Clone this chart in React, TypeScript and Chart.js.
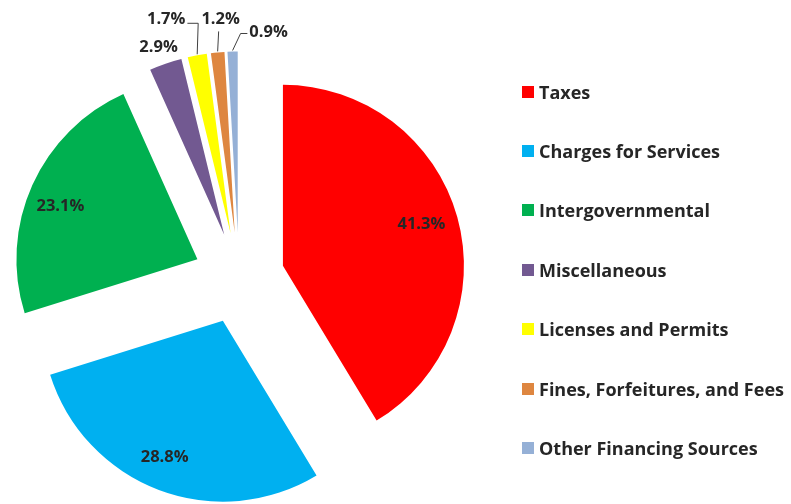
import React, { useEffect, useRef } from "react";
import { Chart, registerables } from "chart.js";

Chart.register(...registerables);

const categories = [
  "Taxes",
  "Charges for Services",
  "Intergovernmental",
  "Miscellaneous",
  "Licenses and Permits",
  "Fines, Forfeitures, and Fees",
  "Other Financing Sources",
];
const shares = [41.3, 28.8, 23.1, 2.9, 1.7, 1.2, 0.9];
const colors = ["#FF0000", "#00B0F0", "#00B050", "#725991", "#FFFF00", "#DE8640", "#95B0D6"];

// label placement style: inside (fraction of radius + nudge) or outside with offset from slice tip
const labelInsideRatio = 0.8;
const insideNudges: [number, number][] = [[-1, -3], [-7, 1], [-5, 6], [0, 0], [0, 0], [0, 0], [0, 0]];
const outsideLabels: (null | { dx: number; dy: number; elbow: null | [number, number] })[] = [
  null,
  null,
  null,
  { dx: -7, dy: -16, elbow: null },
  { dx: -31, dy: -36, elbow: [1, -32] },
  { dx: 3, dy: -33, elbow: [1, -21] },
  { dx: 36, dy: -19, elbow: [8, -18] },
];

const EXPLODE = 45.6;
const FONT = "'Open Sans', 'Noto Sans', sans-serif";
const TEXT = "#262626";

const explodePlugin = {
  id: "explode",
  afterDatasetsUpdate(chart: any) {
    const meta = chart.getDatasetMeta(0);
    meta.data.forEach((arc: any) => {
      const mid = (arc.startAngle + arc.endAngle) / 2;
      arc.x += EXPLODE * Math.cos(mid);
      arc.y += EXPLODE * Math.sin(mid);
    });
  },
};

const labelPlugin = {
  id: "pieLabels",
  afterDatasetsDraw(chart: any) {
    const ctx = chart.ctx;
    const meta = chart.getDatasetMeta(0);
    ctx.save();
    ctx.font = `bold 16.5px ${FONT}`;
    ctx.fillStyle = TEXT;
    ctx.textAlign = "center";
    ctx.textBaseline = "middle";
    meta.data.forEach((arc: any, i: number) => {
      const mid = (arc.startAngle + arc.endAngle) / 2;
      const text = shares[i].toFixed(1) + "%";
      const spec = outsideLabels[i];
      if (!spec) {
        const r = arc.outerRadius * labelInsideRatio;
        ctx.fillText(
          text,
          arc.x + r * Math.cos(mid) + insideNudges[i][0],
          arc.y + r * Math.sin(mid) + insideNudges[i][1]
        );
        return;
      }
      const px = arc.x + arc.outerRadius * Math.cos(mid);
      const py = arc.y + arc.outerRadius * Math.sin(mid);
      const lx = px + spec.dx;
      const ly = py + spec.dy;
      ctx.fillText(text, lx, ly);
      if (spec.elbow) {
        const w = ctx.measureText(text).width;
        const ex = px + spec.elbow[0];
        const ey = py + spec.elbow[1];
        ctx.beginPath();
        ctx.strokeStyle = "#404040";
        ctx.lineWidth = 1;
        ctx.moveTo(px, py - 1);
        ctx.lineTo(ex, ey);
        const left = lx - w / 2 - 2;
        const right = lx + w / 2 + 2;
        if (ex > right) ctx.lineTo(right, ey);
        else if (ex < left) ctx.lineTo(left, ey);
        ctx.stroke();
      }
    });
    ctx.restore();
  },
};

export default function App() {
  const ref = useRef<HTMLCanvasElement>(null);
  useEffect(() => {
    document.body.style.margin = "0";
    const chart = new Chart(ref.current!, {
      type: "pie",
      data: {
        labels: categories,
        datasets: [
          {
            data: shares,
            backgroundColor: colors,
            borderWidth: 0,
          },
        ],
      },
      options: {
        animation: false,
        responsive: false,
        devicePixelRatio: 1,
        radius: 181,
        layout: { padding: { left: 0, right: 313, top: 52, bottom: 0 } },
        plugins: { legend: { display: false }, tooltip: { enabled: false } },
      } as any,
      plugins: [explodePlugin, labelPlugin],
    });
    return () => chart.destroy();
  }, []);

  return (
    <div style={{ position: "relative", width: 791, height: 504, background: "#fff" }}>
      <canvas ref={ref} width={791} height={504} style={{ position: "absolute", left: 0, top: 0 }} />
      <div style={{ position: "absolute", left: 522, top: 62 }}>
        {categories.map((c, i) => (
          <div
            key={c}
            style={{
              height: 59.4,
              display: "flex",
              alignItems: "center",
              fontFamily: FONT,
              fontWeight: 700,
              fontSize: 18,
              color: TEXT,
              whiteSpace: "nowrap",
            }}
          >
            <span
              style={{ width: 12, height: 12, background: colors[i], display: "inline-block", marginRight: 5, flex: "none" }}
            />
            {c}
          </div>
        ))}
      </div>
    </div>
  );
}
